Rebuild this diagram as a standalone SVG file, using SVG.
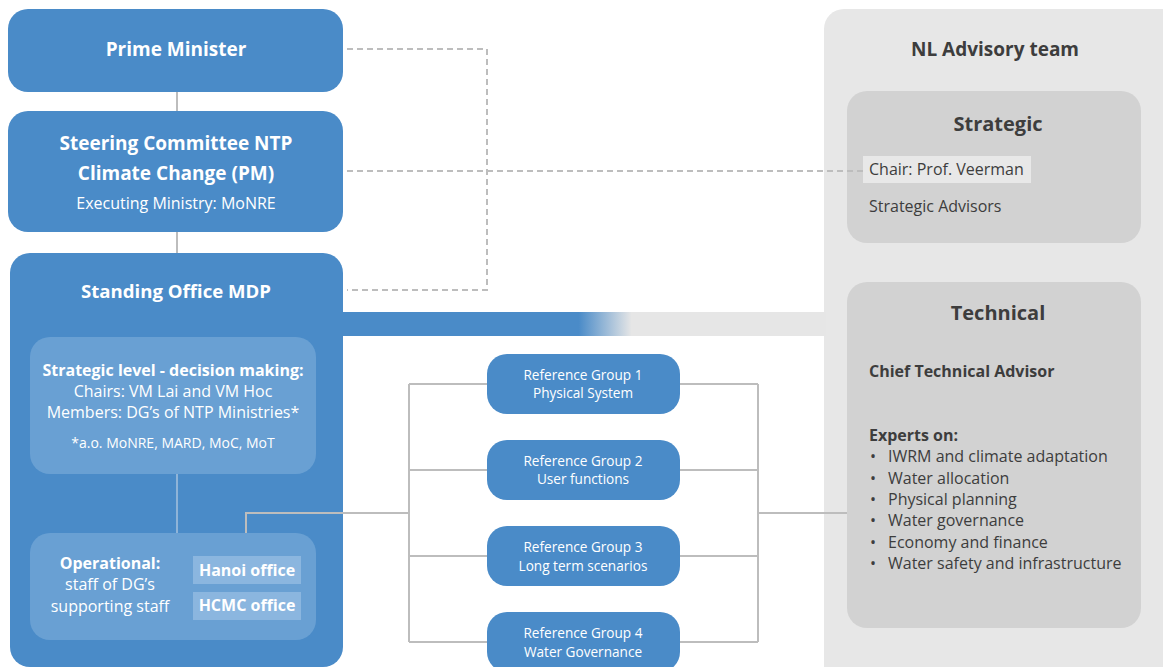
<svg xmlns="http://www.w3.org/2000/svg" width="1163" height="667" viewBox="0 0 1163 667">
  <defs>
    <linearGradient id="bandFade" x1="343" y1="0" x2="824" y2="0" gradientUnits="userSpaceOnUse">
      <stop offset="0" stop-color="#4a8bc8"/>
      <stop offset="0.49" stop-color="#4a8bc8"/>
      <stop offset="0.6" stop-color="#e6e6e6"/>
      <stop offset="1" stop-color="#e6e6e6"/>
    </linearGradient>
  </defs>
  <style>
    text { font-family: "Open Sans", "Noto Sans", "Liberation Sans", sans-serif; }
    .blue { fill: #4a8bc8; }
    .inner { fill: #69a0d3; }
    .tag { fill: #8bb6df; }
    .wt { fill: #ffffff; text-anchor: middle; }
    .b { font-weight: 700; }
    .panel { fill: #e7e7e7; }
    .sub { fill: #d2d2d2; }
    .dk { fill: #3d3d3d; }
    .ln { fill: none; stroke: #bdbdbd; stroke-width: 2; }
    .dash { fill: none; stroke: #bdbdbd; stroke-width: 2; stroke-dasharray: 6 4; }
    .ln-in { fill: none; stroke: #8fb4d8; stroke-width: 2; }
  </style>

  <rect width="1163" height="667" fill="#ffffff"/>

  <!-- NL advisory panel background -->
  <g id="nl-advisory">
    <rect class="panel" x="824" y="9" width="360" height="690" rx="20"/>
    <text class="dk b" x="995" y="56" font-size="19" text-anchor="middle">NL Advisory team</text>
  </g>

  <!-- wide band linking the standing office with the advisory panel -->
  <rect x="340" y="312" width="486" height="24" fill="url(#bandFade)"/>

  <g id="prime-minister">
    <rect class="blue" x="8" y="9" width="335" height="83" rx="20"/>
    <text class="wt b" x="176" y="56" font-size="19">Prime Minister</text>
  </g>

  <g id="steering-committee">
    <rect class="blue" x="8" y="111" width="335" height="121" rx="20"/>
    <text class="wt b" x="176" y="150" font-size="19">Steering Committee NTP</text>
    <text class="wt b" x="176" y="180" font-size="19">Climate Change (PM)</text>
    <text class="wt" x="176" y="209" font-size="16">Executing Ministry: MoNRE</text>
  </g>

  <g id="standing-office">
    <rect class="blue" x="10" y="253" width="333" height="414" rx="20"/>
    <text class="wt b" x="176" y="298" font-size="18.6">Standing Office MDP</text>
  </g>

  <g id="strategic-level">
    <rect class="inner" x="30" y="337" width="286" height="137" rx="20"/>
    <text class="wt b" x="173" y="376" font-size="16">Strategic level - decision making:</text>
    <text class="wt" x="173" y="397" font-size="16">Chairs: VM Lai and VM Hoc</text>
    <text class="wt" x="173" y="418" font-size="16">Members: DG’s of NTP Ministries*</text>
    <text class="wt" x="173" y="448" font-size="14">*a.o. MoNRE, MARD, MoC, MoT</text>
  </g>

  <g id="operational">
    <rect class="inner" x="30" y="533" width="286" height="107" rx="20"/>
    <text class="wt b" x="110" y="569" font-size="16">Operational:</text>
    <text class="wt" x="110" y="590" font-size="16">staff of DG’s</text>
    <text class="wt" x="110" y="612" font-size="16">supporting staff</text>
    <rect class="tag" x="193" y="556" width="108" height="28"/>
    <text class="wt b" x="247" y="576" font-size="16">Hanoi office</text>
    <rect class="tag" x="193" y="592" width="108" height="28"/>
    <text class="wt b" x="247" y="611" font-size="16">HCMC office</text>
  </g>

  <g id="reference-group-1">
    <rect class="blue" x="487" y="354" width="193" height="60" rx="20"/>
    <text class="wt" x="583" y="380" font-size="13.6">Reference Group 1</text>
    <text class="wt" x="583" y="398" font-size="13.6">Physical System</text>
  </g>
  <g id="reference-group-2">
    <rect class="blue" x="487" y="440" width="193" height="60" rx="20"/>
    <text class="wt" x="583" y="466" font-size="13.6">Reference Group 2</text>
    <text class="wt" x="583" y="484" font-size="13.6">User functions</text>
  </g>
  <g id="reference-group-3">
    <rect class="blue" x="487" y="526" width="193" height="60" rx="20"/>
    <text class="wt" x="583" y="552" font-size="13.6">Reference Group 3</text>
    <text class="wt" x="583" y="571" font-size="13.6">Long term scenarios</text>
  </g>
  <g id="reference-group-4">
    <rect class="blue" x="487" y="612" width="193" height="60" rx="20"/>
    <text class="wt" x="583" y="638" font-size="13.6">Reference Group 4</text>
    <text class="wt" x="583" y="657" font-size="13.6">Water Governance</text>
  </g>

  <g id="strategic">
    <rect class="sub" x="847" y="91" width="294" height="152" rx="20"/>
    <text class="dk b" x="998" y="131" font-size="20" text-anchor="middle">Strategic</text>
    <rect x="863" y="156" width="168" height="27" fill="#e8e8e8"/>
    <text class="dk" x="869" y="175" font-size="16">Chair: Prof. Veerman</text>
    <text class="dk" x="869" y="212" font-size="16">Strategic Advisors</text>
  </g>

  <g id="technical">
    <rect class="sub" x="847" y="282" width="294" height="346" rx="20"/>
    <text class="dk b" x="998" y="320" font-size="20" text-anchor="middle">Technical</text>
    <text class="dk b" x="869" y="377" font-size="16">Chief Technical Advisor</text>
    <text class="dk b" x="869" y="441" font-size="16">Experts on:</text>
    <g class="dk" font-size="16">
      <text x="870" y="462">•</text><text x="888" y="462">IWRM and climate adaptation</text>
      <text x="870" y="484">•</text><text x="888" y="484">Water allocation</text>
      <text x="870" y="505">•</text><text x="888" y="505">Physical planning</text>
      <text x="870" y="526">•</text><text x="888" y="526">Water governance</text>
      <text x="870" y="548">•</text><text x="888" y="548">Economy and finance</text>
      <text x="870" y="569">•</text><text x="888" y="569">Water safety and infrastructure</text>
    </g>
  </g>

  <!-- connectors, drawn last so the links inside the standing office stay visible -->
  <g id="connectors">
    <line class="ln" x1="177" y1="92" x2="177" y2="111"/>
    <line class="ln" x1="177" y1="232" x2="177" y2="253"/>
    <path class="dash" d="M347 49 H487 V290 H347"/>
    <line class="dash" x1="347" y1="171" x2="863" y2="171"/>
    <line class="ln-in" x1="177" y1="474" x2="177" y2="533"/>
    <path class="ln" d="M246 533 V513 H409"/>
    <path class="ln" d="M409 384 V642 M409 384 H487 M409 470 H487 M409 556 H487 M409 642 H487"/>
    <path class="ln" d="M758 384 V642 M680 384 H758 M680 470 H758 M680 556 H758 M680 642 H758"/>
    <line class="ln" x1="758" y1="513" x2="847" y2="513"/>
  </g>
</svg>
